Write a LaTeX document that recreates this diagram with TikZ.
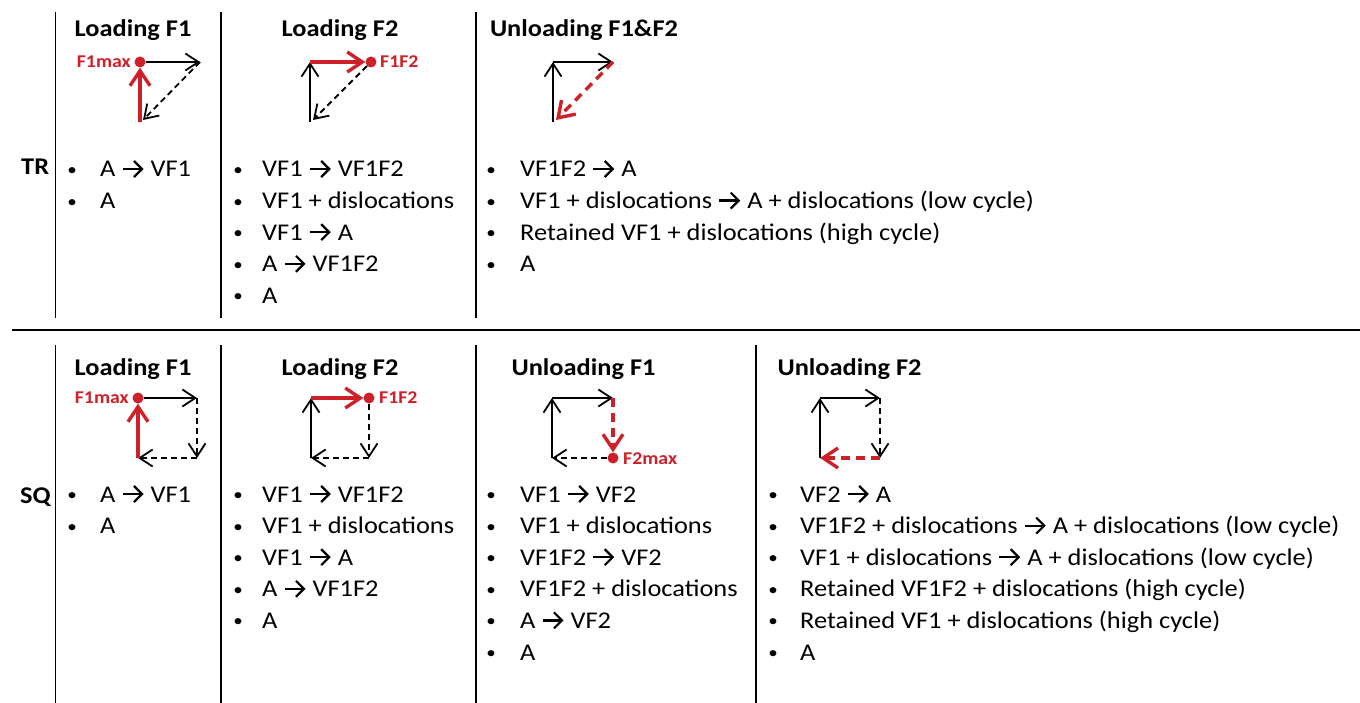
\documentclass[tikz,border=0pt]{standalone}
\usepackage{fontspec}
\setmainfont{Carlito}[FakeStretch=1.1]
\usetikzlibrary{arrows.meta}
\definecolor{myred}{RGB}{206,32,40}
\newcommand\ar{\tikz[baseline=-8pt]\draw[line width=2.2pt,-{Straight Barb[length=8pt,width=16pt]}] (0pt,0pt)--(21pt,0pt);}
\newcommand\blist[5]{%
  \foreach \t [count=\i] in {#5} {%
    \node[item, name=#1-\i] at (#2, {#3+31.6*(\i-1)}) {\llap{\makebox[#4pt][c]{\raisebox{1.5pt}{\scalebox{0.72}{•}}}}\t};}}
\begin{document}
\begin{tikzpicture}[x=1pt,y=-1pt,
  frame/.style={line width=1.6pt, black},
  head/.style={font=\bfseries\fontsize{24}{28}\selectfont, anchor=base, inner sep=0},
  item/.style={font=\fontsize{24}{28}\selectfont, anchor=base west, inner sep=0},
  blk/.style={line width=1.8pt, -{Straight Barb[length=13pt,width=17pt]}},
  blkd/.style={blk, dash pattern=on 6pt off 4pt},
  redv/.style={myred, line width=3.4pt, -{Straight Barb[length=15pt,width=20pt]}},
  redd/.style={redv, dash pattern=on 9pt off 6pt},
  reddot/.style={circle, fill=myred, inner sep=0, minimum size=11pt},
  lab/.style={myred, font=\bfseries\fontsize{18}{20}\selectfont, inner sep=0}]
\useasboundingbox (0,0) rectangle (1360,703);

% frame lines
\draw[frame] (55.5,12) -- (55.5,318);
\draw[frame] (221,12) -- (221,318);
\draw[frame] (476,12) -- (476,318);
\draw[frame] (12,330) -- (1360,330);
\draw[frame] (55.5,345) -- (55.5,703);
\draw[frame] (221,345) -- (221,703);
\draw[frame] (476,345) -- (476,703);
\draw[frame] (756,345) -- (756,703);

% row labels
\node[head, anchor=base west] (tr) at (21,175) {TR};
\node[head, anchor=base west] (sq) at (20,503) {SQ};

% headings
\node[head] (h11) at (133,37) {Loading F1};
\node[head] (h12) at (340,37) {Loading F2};
\node[head] (h13) at (584,37) {Unloading F1\&F2};
\node[head] (h21) at (133,375) {Loading F1};
\node[head] (h22) at (340,375) {Loading F2};
\node[head] (h23) at (583.5,375) {Unloading F1};
\node[head] (h24) at (849.5,375) {Unloading F2};

% TR loading F1
\node[reddot] (d1) at (140,62) {};
\coordinate (a1r) at (200,62);
\coordinate (a1b) at (140,122);
\coordinate (a1e) at (143,120);
\node[lab, anchor=east] (l1) at (131,62) {F1max};
\draw[blk] (d1) -- (a1r);
\draw[blkd] (a1r) -- (a1e);
\draw[redv] (a1b) -- (d1);

% TR loading F2
\coordinate (a2b) at (310,122);
\coordinate (a2e) at (313,120);
\coordinate (a2t) at (310,62);
\node[reddot] (d2) at (371,62) {};
\node[lab, anchor=west] (l2) at (380,62) {F1F2};
\draw[blk] (a2b) -- (a2t);
\draw[redv] (a2t) -- (d2);
\draw[blkd] (d2) -- (a2e);

% TR unloading
\coordinate (a3b) at (553,122);
\coordinate (a3e) at (556,120);
\coordinate (a3t) at (553,62);
\coordinate (a3r) at (613,62);
\draw[blk] (a3b) -- (a3t);
\draw[blk] (a3t) -- (a3r);
\draw[redd] (a3r) -- (a3e);

% SQ loading F1
\node[reddot] (d4) at (138,398) {};
\coordinate (b1r) at (197,398);
\coordinate (b1br) at (197,458);
\coordinate (b1bl) at (138,458);
\node[lab, anchor=east] (l4) at (129,398) {F1max};
\draw[blk] (d4) -- (b1r);
\draw[blkd] (b1r) -- (b1br);
\draw[blkd] (b1br) -- (b1bl);
\draw[redv] (b1bl) -- (d4);

% SQ loading F2
\coordinate (b2bl) at (311,458);
\coordinate (b2tl) at (311,398);
\node[reddot] (d5) at (369,398) {};
\coordinate (b2br) at (369,458);
\node[lab, anchor=west] (l5) at (379,398) {F1F2};
\draw[blk] (b2bl) -- (b2tl);
\draw[redv] (b2tl) -- (d5);
\draw[blkd] (d5) -- (b2br);
\draw[blkd] (b2br) -- (b2bl);

% SQ unloading F1
\coordinate (b3bl) at (552,458);
\coordinate (b3tl) at (552,398);
\coordinate (b3tr) at (613,398);
\node[reddot] (d6) at (613,458) {};
\node[lab, anchor=west] (l6) at (623,459) {F2max};
\draw[blk] (b3bl) -- (b3tl);
\draw[blk] (b3tl) -- (b3tr);
\draw[redd] (b3tr) -- (d6);
\draw[blkd] (d6) -- (b3bl);

% SQ unloading F2
\coordinate (b4bl) at (820,458);
\coordinate (b4tl) at (820,398);
\coordinate (b4tr) at (880,398);
\coordinate (b4br) at (880,458);
\draw[blk] (b4bl) -- (b4tl);
\draw[blk] (b4tl) -- (b4tr);
\draw[blkd] (b4tr) -- (b4br);
\draw[redd] (b4br) -- (b4bl);

% lists
\blist{t1}{100}{177}{56}{A \ar{} VF1, A}
\blist{t2}{262}{177}{48}{VF1 \ar{} VF1F2, VF1 + dislocations, VF1 \ar{} A, A \ar{} VF1F2, A}
\blist{t3}{520}{177}{58}{VF1F2 \ar{} A, VF1 + dislocations \ar{} A + dislocations (low cycle), Retained VF1 + dislocations (high cycle), A}
\blist{s1}{100}{502}{56}{A \ar{} VF1, A}
\blist{s2}{262}{502}{48}{VF1 \ar{} VF1F2, VF1 + dislocations, VF1 \ar{} A, A \ar{} VF1F2, A}
\blist{s3}{520}{502}{58}{VF1 \ar{} VF2, VF1 + dislocations, VF1F2 \ar{} VF2, VF1F2 + dislocations, A \ar{} VF2, A}
\blist{s4}{800}{502}{54}{VF2 \ar{} A, VF1F2 + dislocations \ar{} A + dislocations (low cycle), VF1 + dislocations \ar{} A + dislocations (low cycle), Retained VF1F2 + dislocations (high cycle), Retained VF1 + dislocations (high cycle), A}
\end{tikzpicture}
\end{document}
